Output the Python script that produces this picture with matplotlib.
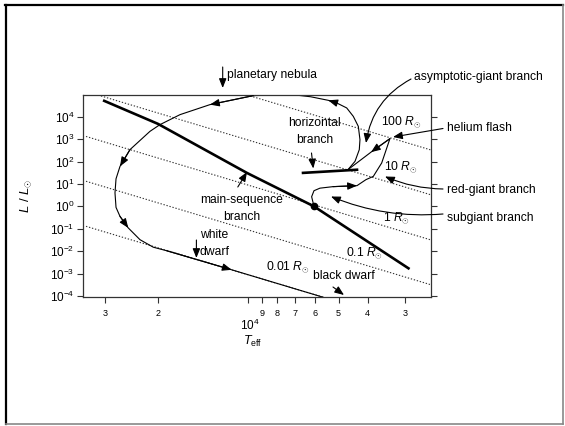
import matplotlib
matplotlib.use("Agg")
import matplotlib.pyplot as plt
from matplotlib.lines import Line2D
from matplotlib.ticker import NullLocator, LogFormatterMathtext

plt.rcParams["font.family"] = ["Liberation Sans", "DejaVu Sans"]
plt.rcParams["mathtext.fontset"] = "custom"
plt.rcParams["mathtext.rm"] = "Liberation Sans"
plt.rcParams["mathtext.it"] = "Liberation Sans:italic"
plt.rcParams["mathtext.bf"] = "Liberation Sans:bold"

# main sequence (T_eff in K, L in L_sun)
ms_T = [30500, 20000, 10100, 6040, 2900]
ms_L = [5.4e4, 4.8e3, 31, 1.0, 1.6e-3]

# sun -> subgiant -> red-giant tip -> helium flash -> horizontal branch
rgb_T = [6040, 6150, 6040, 5770, 5220, 4343, 4053, 3831, 3592, 3372, 3899, 4654]
rgb_L = [1.0, 2.7, 5.0, 6.5, 7.6, 8.4, 15.6, 21.8, 86.6, 1052, 263, 43.5]

# horizontal branch
hb_T = [6637, 4298]
hb_L = [31, 43.5]

# AGB -> planetary nebula -> white dwarf -> black dwarf
agb_T = [4654, 4409, 4266, 4244, 4298, 4467, 4699, 5074, 5412, 6200, 6898, 8200, 9623,
         13420, 16890, 19700, 21270, 24800, 26770, 27600, 27820, 27600, 26770, 25120,
         22960, 20740, 18710, 11360, 5623]
agb_L = [43.5, 102, 340, 950, 3725, 1.04e4, 2.47e4, 4.13e4, 5.4e4, 7.8e4, 9.2e4, 9.3e4,
         8.75e4, 3.47e4, 1.24e4, 4440, 2230, 340, 61, 17, 4.0, 0.9, 0.358, 0.109,
         0.0326, 0.0151, 0.0105, 1.48e-3, 8.8e-5]

# constant-radius lines (end points)
rad_names = ["0.01", "0.1", "1", "10", "100"]
rad_T0 = [34750, 34750, 34750, 31700, 10080]
rad_L0 = [0.129, 13.2, 1320, 9.3e4, 9.3e4]
rad_T1 = [5620, 2466, 2466, 2466, 2466]
rad_L1 = [8.8e-5, 3.2e-4, 0.032, 3.3, 331]

sun_T, sun_L = 6040, 1.0

xticks = [30000, 20000, 10000, 9000, 8000, 7000, 6000, 5000, 4000, 3000]
xtick_labels = ["3", "2", "", "9", "8", "7", "6", "5", "4", "3"]
yticks = [1e-4, 1e-3, 1e-2, 1e-1, 1, 1e1, 1e2, 1e3, 1e4]

W, H = 565, 426


def fp(x, y):
    return (x / W, 1 - y / H)


fig = plt.figure(figsize=(W / 100, H / 100), dpi=100)
ax = fig.add_axes([83.3 / W, 1 - 296.7 / H, (430.7 - 83.3) / W, (296.7 - 95) / H])
ax.set_xscale("log"); ax.set_yscale("log")
ax.set_xlim(35480, 2466); ax.set_ylim(10 ** -4.03, 10 ** 4.97)

for s in ax.spines.values():
    s.set_color("#333333"); s.set_linewidth(0.9)
ax.set_xticks(xticks); ax.set_xticklabels(xtick_labels)
ax.xaxis.set_minor_locator(NullLocator())
ax.set_yticks(yticks)
ax.yaxis.set_major_formatter(LogFormatterMathtext())
ax.yaxis.set_minor_locator(NullLocator())
ax.tick_params(axis="x", direction="out", length=4.5, width=0.8, labelsize=6.5, pad=4, color="#333333")
ax.tick_params(axis="y", direction="out", length=4.5, width=0.8, labelsize=8.5, pad=2,
               right=True, color="#333333")

# dotted radius lines
for t0, l0, t1, l1 in zip(rad_T0, rad_L0, rad_T1, rad_L1):
    ax.plot([t0, t1], [l0, l1], color="#333333", lw=0.8, ls=(0, (1.2, 1.6)))

ax.plot(ms_T, ms_L, color="k", lw=1.9, solid_capstyle="butt")
ax.plot(hb_T, hb_L, color="k", lw=1.9, solid_capstyle="butt")
ax.plot(rgb_T, rgb_L, color="k", lw=0.8)
ax.plot(agb_T, agb_L, color="k", lw=0.8)
ax.plot([sun_T], [sun_L], "o", color="k", ms=4.5)

head = dict(arrowstyle="-|>,head_length=0.7,head_width=0.28", color="k", lw=0.8,
            shrinkA=0, shrinkB=0, mutation_scale=8)
for T, L, idx in [(rgb_T, rgb_L, [5, 10]), (agb_T, agb_L, [8, 13, 18, 23, 27])]:
    for i in idx:
        ax.annotate("", xy=(T[i], L[i]), xytext=(T[i - 1], L[i - 1]), arrowprops=head)

# axis labels
ax.set_ylabel(r"$L\ /\ L_{\odot}$", fontsize=9.5)
ax.yaxis.set_label_coords(-0.142, 0.5)
fig.text(*fp(249.5, 325), r"$10^{4}$", fontsize=8.5, ha="center", va="center")
fig.text(*fp(253, 341.7), r"$T_{\rm eff}$", fontsize=9, ha="center", va="center")

fs = 8.7
labels = [
    ("planetary nebula", 227, 75, "left"),
    ("asymptotic-giant branch", 413.7, 76.7, "left"),
    ("helium flash", 446.8, 127.7, "left"),
    ("red-giant branch", 446.8, 190, "left"),
    ("subgiant branch", 446.8, 218.3, "left"),
    ("horizontal", 314, 123.3, "center"),
    ("branch", 315, 140, "center"),
    ("main-sequence", 241.4, 200, "center"),
    ("branch", 241.4, 216.7, "center"),
    ("white", 200.5, 235, "left"),
    ("dwarf", 200, 251.7, "left"),
    ("black dwarf", 312.8, 276, "left"),
]
for txt, x, y, ha in labels:
    fig.text(*fp(x, y), txt, fontsize=fs, ha=ha, va="center")

rad_pos = [(266, 266.7), (346, 253.3), (382.7, 218.3), (383.8, 166.7), (381, 121.7)]
for name, (x, y) in zip(rad_names, rad_pos):
    fig.text(*fp(x, y), name + r" $R_{\odot}$", fontsize=fs, ha="left", va="center")

ptr = dict(arrowstyle="-|>,head_length=0.7,head_width=0.28", color="k", lw=0.8,
           shrinkA=0, shrinkB=0, mutation_scale=8)
pointers = [
    ((222.7, 67), (222.7, 88), "arc3"),
    ((411, 79), (366, 143), "arc3,rad=0.25"),
    ((443, 128.5), (393, 137), "arc3"),
    ((443, 189), (385, 176.5), "arc3,rad=-0.1"),
    ((443, 214), (331, 196.5), "arc3,rad=-0.12"),
    ((311.5, 153), (313.3, 168.5), "arc3"),
    ((237.8, 187), (247, 172), "arc3"),
    ((196.4, 240), (196.4, 258), "arc3"),
    ((333, 287), (344, 295), "arc3"),
]
for (x0, y0), (x1, y1), cs in pointers:
    ax.annotate("", xy=fp(x1, y1), xytext=fp(x0, y0), xycoords="figure fraction",
                textcoords="figure fraction", arrowprops=dict(ptr, connectionstyle=cs),
                annotation_clip=False)

# slide frame
fig.add_artist(Line2D([6 / W, 6 / W], [1 - 5 / H, 1 - 424 / H], transform=fig.transFigure,
                      color="k", lw=1.6))
fig.add_artist(Line2D([5 / W, 563 / W], [1 - 5 / H, 1 - 5 / H], transform=fig.transFigure,
                      color="k", lw=1.6))
fig.add_artist(Line2D([563 / W, 563 / W], [1 - 5 / H, 1 - 424 / H], transform=fig.transFigure,
                      color="#888888", lw=1.2))
fig.add_artist(Line2D([6 / W, 563 / W], [1 - 424 / H, 1 - 424 / H], transform=fig.transFigure,
                      color="#888888", lw=1.2))

fig.savefig("out.png", dpi=100)
